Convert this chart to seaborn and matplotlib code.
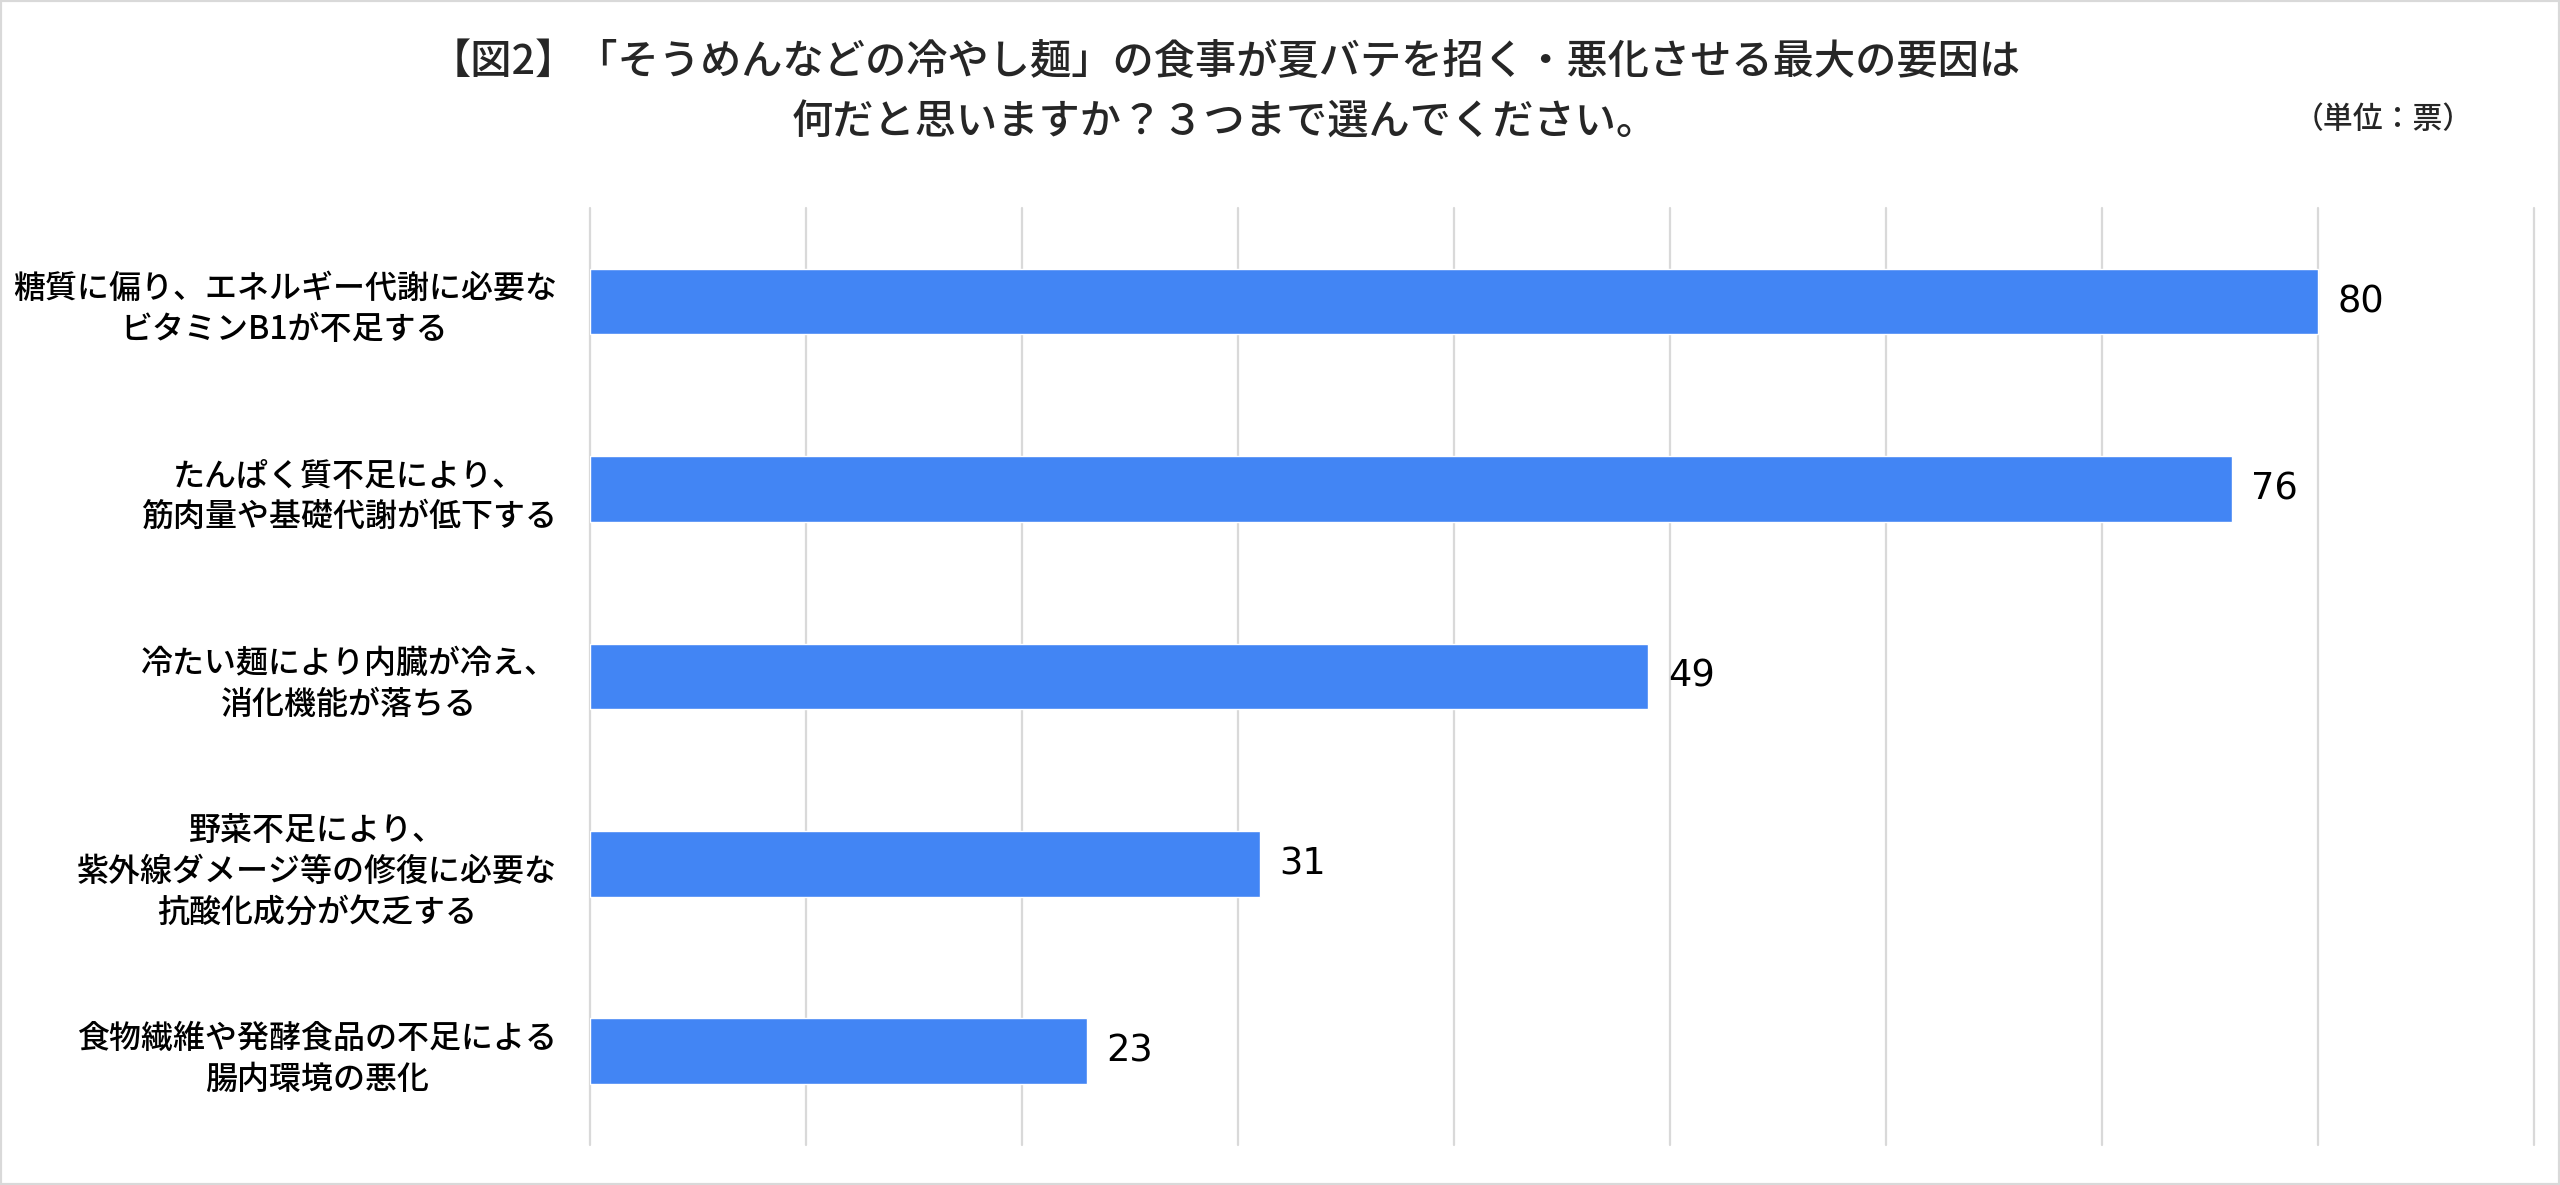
import pandas as pd
import matplotlib.pyplot as plt
import seaborn as sns
from matplotlib.patches import Rectangle

# データ
categories = [
    "糖質に偏り、エネルギー代謝に必要な\nビタミンB1が不足する",
    "たんぱく質不足により、\n筋肉量や基礎代謝が低下する",
    "冷たい麺により内臓が冷え、\n消化機能が落ちる",
    "野菜不足により、\n紫外線ダメージ等の修復に必要な\n抗酸化成分が欠乏する",
    "食物繊維や発酵食品の不足による\n腸内環境の悪化",
]
votes = [80, 76, 49, 31, 23]

title_line1 = "【図2】「そうめんなどの冷やし麺」の食事が夏バテを招く・悪化させる最大の要因は"
title_line2 = "何だと思いますか？３つまで選んでください。"
unit_label = "（単位：票）"

df = pd.DataFrame({"category": categories, "votes": votes})

sns.set_style("white")
plt.rcParams["font.family"] = ["Noto Sans CJK JP", "DejaVu Sans"]

fig = plt.figure(figsize=(25.6, 11.85), dpi=100)
ax = fig.add_axes([0.2305, 0.0338, 0.7593, 0.7907])

sns.barplot(data=df, x="votes", y="category", color="#4285F4", width=0.35,
            orient="h", saturation=1, ax=ax)

ax.set_xlim(0, 90)
ax.set_xticks(range(0, 91, 10))
ax.set_xticklabels([])
ax.xaxis.grid(True, color="#d9d9d9", linewidth=1.6)
ax.set_axisbelow(True)
for gl in ax.get_xgridlines():
    gl.set_clip_on(False)
sns.despine(ax=ax, left=True, bottom=True)
ax.set_xlabel("")
ax.set_ylabel("")
ax.tick_params(axis="both", length=0)
ax.tick_params(axis="y", pad=24, labelsize=23)
for lbl in ax.get_yticklabels():
    lbl.set_multialignment("center")
    lbl.set_linespacing(1.35)
    lbl.set_color("#000000")
    lbl.set_fontweight("medium")

# 値ラベル
ax.bar_label(ax.containers[0], padding=14, fontsize=26.5, color="#000000",
             family="DejaVu Sans")

# タイトル
fig.text(0.4785, 0.947, title_line1, ha="center", va="center", fontsize=29.7,
         fontweight="medium")
fig.text(0.4785, 0.896, title_line2, ha="center", va="center", fontsize=29.7,
         fontweight="medium")
fig.text(0.931, 0.899, unit_label, ha="center", va="center", fontsize=21.5,
         fontweight="medium")

# 外枠
fig.patches.append(Rectangle((0, 0), 1, 1, transform=fig.transFigure, fill=False,
                             edgecolor="#d9d9d9", linewidth=3))

fig.savefig("out.png", dpi=100, facecolor="white")
